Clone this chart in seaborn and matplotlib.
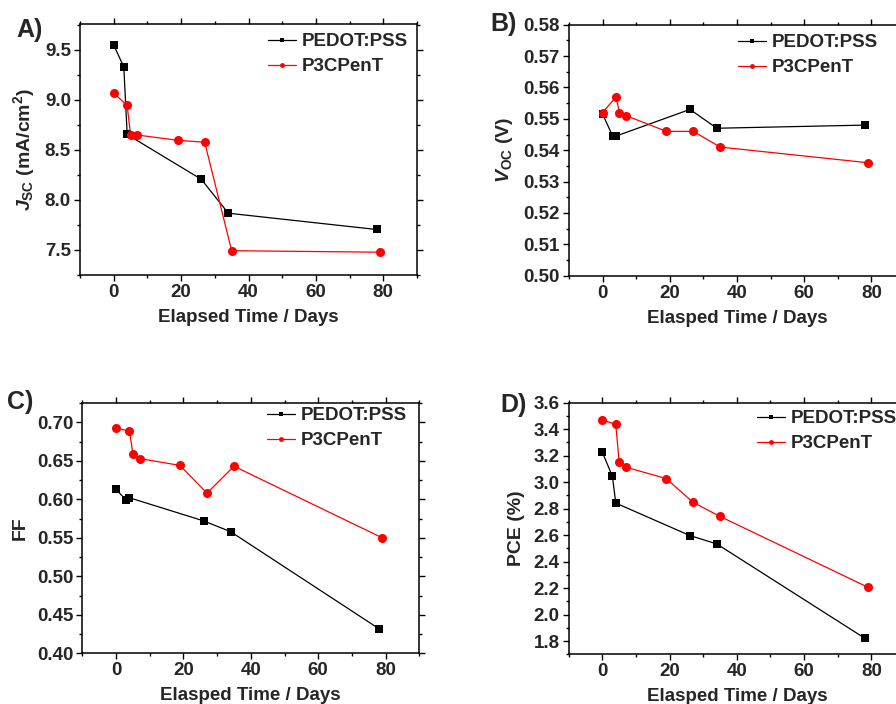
import matplotlib
matplotlib.use("Agg")
import matplotlib.pyplot as plt
from matplotlib.ticker import MultipleLocator
import seaborn as sns
import pandas as pd

# ---- data ----
days_pedot = [0, 3, 4, 26, 34, 78]
days_p3 = [0, 4, 5, 7, 19, 27, 35, 79]

jsc_pedot = [9.55, 9.33, 8.655, 8.207, 7.868, 7.705]
jsc_p3 = [9.07, 8.945, 8.65, 8.65, 8.597, 8.578, 7.493, 7.478]

voc_pedot = [0.5515, 0.5445, 0.5445, 0.553, 0.547, 0.548]
voc_p3 = [0.552, 0.557, 0.552, 0.551, 0.546, 0.546, 0.541, 0.536]

ff_pedot = [0.613, 0.599, 0.602, 0.572, 0.558, 0.432]
ff_p3 = [0.692, 0.689, 0.659, 0.653, 0.644, 0.608, 0.643, 0.550]

pce_pedot = [3.226, 3.044, 2.842, 2.597, 2.534, 1.822]
pce_p3 = [3.469, 3.436, 3.153, 3.113, 3.027, 2.847, 2.741, 2.206]

series_names = ["PEDOT:PSS", "P3CPenT"]
xlabels = ["Elapsed Time / Days", "Elasped Time / Days", "Elasped Time / Days", "Elasped Time / Days"]
ylabels = [r"$\mathit{J}_{\rm SC}$ (mA/cm$^{\rm 2}$)", r"$\mathit{V}_{\rm OC}$ (V)", "FF", "PCE (%)"]
panel_letters = ["A)", "B)", "C)", "D)"]

sns.set_style("ticks")
plt.rcParams["font.family"] = ["Liberation Sans", "DejaVu Sans"]
plt.rcParams["font.weight"] = "bold"
plt.rcParams["axes.labelweight"] = "bold"
plt.rcParams["mathtext.fontset"] = "custom"
plt.rcParams["mathtext.rm"] = "Liberation Sans:bold"
plt.rcParams["mathtext.it"] = "Liberation Sans:bold:italic"
plt.rcParams["mathtext.bf"] = "Liberation Sans:bold"

W, H = 896, 704
fig = plt.figure(figsize=(W / 100, H / 100), dpi=100)

# axes boxes in pixels: left, top, right, bottom
boxes = [
    (80, 24, 417, 275),
    (569, 24.7, 905, 275.7),
    (82.3, 402.7, 419.3, 653.3),
    (568.7, 402.7, 905, 654.3),
]
ylims = [(7.25, 9.76), (0.50, 0.58), (0.40, 0.7255), (1.70, 3.60)]
ymajor = [0.5, 0.01, 0.05, 0.2]
yfmt = ["{:.1f}", "{:.2f}", "{:.2f}", "{:.1f}"]
ylabel_x = [37, 515, 29, 525]
letter_pos = [(16, 30), (490, 24), (7, 402), (500, 405)]
legend_pos = [(268, 33), (738, 34), (267, 407), (757, 410)]

data = [
    (jsc_pedot, jsc_p3),
    (voc_pedot, voc_p3),
    (ff_pedot, ff_p3),
    (pce_pedot, pce_p3),
]

for i, (l, t, r, b) in enumerate(boxes):
    ax = fig.add_axes([l / W, 1 - b / H, (r - l) / W, (b - t) / H])
    yp, y3 = data[i]
    dfp = pd.DataFrame({"day": days_pedot, "val": yp})
    df3 = pd.DataFrame({"day": days_p3, "val": y3})
    sns.lineplot(data=dfp, x="day", y="val", ax=ax, color="black", marker="s",
                 markersize=6, markeredgewidth=0, linewidth=0.9, sort=False,
                 estimator=None, label=series_names[0])
    sns.lineplot(data=df3, x="day", y="val", ax=ax, color="#ff0000", marker="o",
                 markersize=6.5, markeredgewidth=0, linewidth=0.9, sort=False,
                 estimator=None, label=series_names[1])
    ax.set_xlim(-10, 90)
    ax.set_ylim(*ylims[i])
    ax.xaxis.set_major_locator(MultipleLocator(20))
    ax.xaxis.set_minor_locator(MultipleLocator(10))
    ax.yaxis.set_major_locator(MultipleLocator(ymajor[i]))
    ax.yaxis.set_minor_locator(MultipleLocator(ymajor[i] / 2))
    ticks = [v for v in ax.get_yticks() if ylims[i][0] - 1e-9 <= v <= ylims[i][1] + 1e-9]
    ax.set_yticks(ticks)
    ax.set_yticklabels([yfmt[i].format(v) for v in ticks])
    ax.set_ylim(*ylims[i])
    for s in ax.spines.values():
        s.set_visible(True)
        s.set_linewidth(1.1)
        s.set_color("black")
    ax.tick_params(which="both", direction="out", top=True, right=True,
                   labeltop=False, labelright=False, width=1.0, color="black")
    ax.tick_params(which="major", length=4.5, labelsize=13.5, pad=2)
    ax.tick_params(which="minor", length=2.5)
    for lab in ax.get_xticklabels() + ax.get_yticklabels():
        lab.set_fontweight("bold")
    ax.set_xlabel(xlabels[i], fontsize=13.5, fontweight="bold")
    ax.set_ylabel(ylabels[i], fontsize=14, fontweight="bold")
    ax.yaxis.set_label_coords((ylabel_x[i] - l) / (r - l), 0.5)
    ax.xaxis.set_label_coords(0.5, -0.135)

    lx, ly = legend_pos[i]
    leg = ax.legend(loc="upper left", bbox_to_anchor=(lx / W, 1 - ly / H),
                    bbox_transform=fig.transFigure, frameon=False,
                    borderpad=0, borderaxespad=0, handlelength=1.5,
                    handletextpad=0.3, labelspacing=0.42,
                    prop={"size": 13.5, "weight": "bold"})
    for h in leg.legend_handles:
        h.set_markersize(3.5)
        h.set_linewidth(0.9)

    px, py = letter_pos[i]
    fig.text(px / W, 1 - py / H, panel_letters[i], fontsize=18, fontweight="bold",
             ha="left", va="center")

fig.savefig("out.png", dpi=100)
